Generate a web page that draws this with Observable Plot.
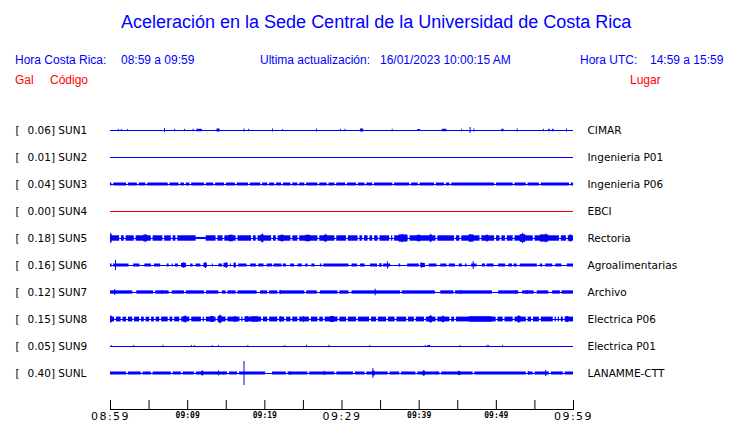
<!DOCTYPE html>
<html><head><meta charset="utf-8">
<script src="https://cdn.jsdelivr.net/npm/d3@7"></script>
<script src="https://cdn.jsdelivr.net/npm/@observablehq/plot@0.6"></script>
<style>
body{margin:0;background:#fff;}
#wrap{position:relative;width:740px;height:423px;overflow:hidden;background:#fff;}
#head{position:relative;width:740px;height:100px;font-family:"Liberation Sans",Arial,sans-serif;}
#head span{position:absolute;white-space:pre;line-height:1;}
.b{color:#0000ff}.r{color:#ff0000}
.maj text{letter-spacing:1.5px}
</style></head><body>
<div id="wrap">
<div id="head">
<span class="b" style="left:121px;top:13px;font-size:18px">Aceleración en la Sede Central de la Universidad de Costa Rica</span>
<span class="b" style="left:15px;top:54px;font-size:12px">Hora Costa Rica:</span>
<span class="b" style="left:121px;top:54px;font-size:12px">08:59 a 09:59</span>
<span class="b" style="left:260px;top:54px;font-size:12px">Ultima actualización:</span>
<span class="b" style="left:380px;top:54px;font-size:12px">16/01/2023 10:00:15 AM</span>
<span class="b" style="left:580px;top:54px;font-size:12px">Hora UTC:</span>
<span class="b" style="left:650px;top:54px;font-size:12px">14:59 a 15:59</span>
<span class="r" style="left:15px;top:74px;font-size:12px">Gal</span>
<span class="r" style="left:50px;top:74px;font-size:12px">Código</span>
<span class="r" style="left:630px;top:74px;font-size:12px">Lugar</span>
</div>
<div id="chart"></div>
</div>
<script>
// ---- data (times in minutes after 08:59, amplitudes in Gal) ----
const codes = ["SUN1","SUN2","SUN3","SUN4","SUN5","SUN6","SUN7","SUN8","SUN9","SUNL"];
const peakGal = [0.06,0.01,0.04,0.00,0.18,0.16,0.12,0.15,0.05,0.40];
const places = ["CIMAR","Ingenieria P01","Ingenieria P06","EBCI","Rectoria","Agroalimentarias","Archivo","Electrica P06","Electrica P01","LANAMME-CTT"];
const baseAmp = [0,0,0.05,0,0.09,0,0.055,0.08,0,0.05];

const sun1Bursts = [[11.2,11.9,0.04],[13.8,14.2,0.05],[32.4,32.8,0.05],[39.8,40.2,0.03],[43.0,43.6,0.04],[50.7,51.0,0.04],[56.8,57.0,0.04],[57.3,57.5,0.04]];
const sun1Spikes = [[1.0,0.04],[1.4,0.03],[2.2,0.03],[7.0,0.07],[8.3,0.04],[9.6,0.04],[10.7,0.04],[17.3,0.05],[17.9,0.04],[21.0,0.05],[22.3,0.03],[26.7,0.05],[29.8,0.04],[30.4,0.04],[36.5,0.04],[45.5,0.04],[46.6,0.1],[47.1,0.05],[52.7,0.05],[56.1,0.04],[59.1,0.05]];

const sun3Gaps = [0.3,2.2,3.6,4.7,7.6,9.0,9.7,10.4,12.3,13.5,14.9,16.3,18.0,19.6,20.5,21.4,22.3,23.5,24.4,25.3,27.0,28.2,29.2,30.6,32.0,33.1,34.1,36.7,38.9,40.0,42.1,43.4,44.1,49.9,52.3,54.0,55.7,59.6];

const sun5Gaps = [1.3,1.9,3.2,5.4,6.9,8.0,8.6,[11.1,12.4],13.8,14.7,16.4,18.4,19.0,21.0,21.6,23.5,24.4,27.0,29.2,30.7,32.2,32.8,33.5,34.1,34.8,36.3,36.7,38.7,42.3,44.7,45.4,48.0,49.9,50.6,51.3,52.3,54.9,58.3,59.2];
const sun5Bursts = [[0,0.2,0.12],[4.3,4.8,0.11],[11.1,12.4,0.035],[15.4,15.9,0.11],[19.5,19.9,0.12],[22.1,22.5,0.11],[25.3,25.9,0.11],[27.7,28.1,0.11],[37.4,38.5,0.12],[39.8,40.2,0.11],[41.4,41.7,0.11],[46.5,47.1,0.12],[48.7,49.0,0.11],[53.1,53.8,0.13],[55.7,56.8,0.12],[59.5,59.8,0.11]];
const sun5Spikes = [[0.05,0.17],[4.5,0.13],[19.7,0.15],[27.9,0.13],[37.8,0.14],[41.5,0.14],[46.6,0.13],[53.4,0.17],[56.4,0.15],[59.6,0.11]];

const sun6Bursts = [[0,0.2],[0.4,2.4],[3.0,3.8],[4.45,5.3],[5.7,6.5],[7.35,7.6],[8.4,8.8],[9.2,9.85,0.07],[10.4,10.7],[11.1,11.7],[12.1,12.55,0.07],[14.05,14.5],[14.7,15.25,0.07],[16.0,16.3,0.07],[16.6,17.7],[18.15,18.9],[19.2,19.9],[20.3,21.0],[21.2,22.2],[22.4,22.8],[23.35,23.85],[24.3,24.85],[25.3,25.6],[26.1,26.5],[27.2,27.4],[27.65,30.9],[31.3,32.0],[32.4,33.0],[33.7,34.6],[34.9,35.2,0.06],[35.4,36.3],[37.4,37.6],[38.5,40.0],[40.2,40.8,0.07],[41.3,42.3],[42.8,43.6],[43.9,44.7],[45.2,45.6],[46.0,46.2],[46.8,47.5],[48.2,48.6],[48.8,49.7],[50.3,51.2],[51.6,52.1],[52.3,52.7],[53.1,55.3],[55.7,56.0],[56.4,57.3],[57.7,58.5],[59.2,60]];
const sun6Spikes = [[0.65,0.17],[8.0,0.05],[9.5,0.1],[12.3,0.1],[13.2,0.05],[15.0,0.1],[15.55,0.05],[16.1,0.09],[35.9,0.12],[40.3,0.09],[47.0,0.13]];

const sun7Gaps = [[2.9,3.4],[5.6,5.85],[7.6,8.0],9.7,12.3,[14.05,14.5],15.1,16.4,[19.0,19.45],20.5,21.8,25.3,[26.8,27.2],29.6,[30.9,31.3],[37.6,37.8],[42.1,42.8],[44.5,44.7],[49.5,50.3],[52.9,53.4],[54.9,55.3],[56.8,57.3],[58.3,58.5]];
const sun7Spikes = [[0.55,0.1],[6.7,0.06],[22.0,0.07],[34.3,0.11],[45.4,0.07],[52.5,0.06],[54.0,0.06]];

const sun8Gaps = [0.65,1.5,2.2,3.0,3.9,4.5,5.2,5.8,6.5,7.6,8.2,9.1,10.4,11.9,12.3,13.8,15.1,16.9,17.3,19.7,20.5,21.8,22.7,23.5,24.4,25.9,27.0,27.7,29.6,30.7,32.0,33.7,34.6,35.9,37.0,38.5,39.5,40.8,42.3,44.1,44.7,50.1,51.0,52.3,54.0,54.7,55.7,57.5,57.9,58.3,58.8];
const sun8Bursts = [[0,0.2,0.1],[9.5,9.9,0.1],[13.0,13.4,0.1],[14.0,14.5,0.11],[16.0,16.4,0.09],[17.5,17.9,0.09],[18.3,19.2,0.09],[28.5,29.0,0.1],[41.3,41.7,0.1],[43.0,43.3,0.1],[46.5,49.5,0.09],[52.8,53.2,0.1],[59.0,59.4,0.09]];
const sun8Spikes = [[0.05,0.12],[9.7,0.12],[14.2,0.15],[22.0,0.1],[25.0,0.1],[41.5,0.13],[43.1,0.11],[52.9,0.13],[59.2,0.1]];

const sun9Bursts = [[41.1,41.5,0.03]];
const sun9Spikes = [[0.1,0.03],[3.0,0.03],[6.8,0.04],[10.5,0.03],[10.9,0.03],[13.2,0.03],[14.0,0.03],[17.8,0.03],[22.6,0.03],[25.4,0.04],[28.3,0.04],[33.6,0.03],[40.8,0.03],[45.3,0.03],[48.8,0.04],[49.0,0.03],[50.8,0.03]];

const sunlGaps = [2.2,4.1,5.4,8.0,9.3,11.0,15.3,16.6,[20.1,21.0],22.9,25.7,29.2,31.6,33.1,36.1,37.6,39.7,42.8,47.1,54.0,54.9,57.0,58.8];
const sunlBursts = [[11.8,12.1,0.07],[34.0,34.3,0.08],[40.5,40.8,0.07],[45.1,45.4,0.07]];
const sunlSpikes = [[17.3,0.4],[11.9,0.08],[14.0,0.08],[14.7,0.06],[23.3,0.06],[27.7,0.07],[34.0,0.16],[40.6,0.1],[42.3,0.05],[45.2,0.06],[54.2,0.06],[56.4,0.1],[58.3,0.05]];

const gapLists = [[],[],sun3Gaps,[],sun5Gaps,[],sun7Gaps,sun8Gaps,[],sunlGaps];
const burstLists = [sun1Bursts,[],[],[],sun5Bursts,sun6Bursts,[],sun8Bursts,sun9Bursts,sunlBursts];
const spikeLists = [sun1Spikes,[],[],[],sun5Spikes,sun6Spikes,sun7Spikes,sun8Spikes,sun9Spikes,sunlSpikes];

const tickMinutes = [0,5,10,15,20,25,30,35,40,45,50,55,60];
const majorMinutes = [0,30,60];
const minorMinutes = [10,20,40,50];

// ---- build tables ----
const startMs = Date.UTC(2023,0,16,8,59);
const toDate = t => new Date(startMs + t*60000);
const rowGap = 0.9;
const colorOf = c => c === "SUN4" ? "#ff0000" : "#0000ff";

const rows = codes.map((code,i) => ({code, gal: peakGal[i], place: places[i], off: -i*rowGap, color: colorOf(code)}));

const segs = [];
const spikes = [];
rows.forEach((r,i) => {
  if (baseAmp[i] > 0) {
    const g = gapLists[i].map(v => Array.isArray(v) ? v : [v-0.12, v+0.12]).sort((a,b)=>a[0]-b[0]);
    let s = 0;
    for (const [a,b] of g) { if (a > s) segs.push({...r, t0:s, t1:a, amp: baseAmp[i]}); s = Math.max(s,b); }
    if (s < 60) segs.push({...r, t0:s, t1:60, amp: baseAmp[i]});
  }
  for (const b of burstLists[i]) segs.push({...r, t0:b[0], t1:b[1], amp: b[2] ?? 0.05});
  for (const p of spikeLists[i]) spikes.push({...r, t:p[0], amp:p[1]});
});

const chart = Plot.plot({
  width: 740, height: 323,
  marginLeft: 110, marginRight: 167, marginTop: 16.5, marginBottom: 14,
  x: {type: "utc", domain: [toDate(0), toDate(60)]},
  y: {domain: [-9.3, 0.45], axis: null},
  style: {fontFamily: "'DejaVu Sans', sans-serif", fontSize: "10.5px", color: "#000", background: "#fff", overflow: "visible"},
  marks: [
    Plot.ruleY(rows, {y: "off", stroke: "color", strokeWidth: 1}),
    Plot.rect(segs, {x1: d => toDate(d.t0), x2: d => toDate(d.t1), y1: d => d.off - d.amp, y2: d => d.off + d.amp, fill: "color"}),
    Plot.ruleX(spikes, {x: d => toDate(d.t), y1: d => d.off - d.amp, y2: d => d.off + d.amp, stroke: "color", strokeWidth: 1}),
    Plot.text(rows, {frameAnchor: "left", y: "off", text: () => "[", dx: -95, textAnchor: "start", fill: "#000"}),
    Plot.text(rows, {frameAnchor: "left", y: "off", text: d => d.gal.toFixed(2) + "] " + d.code, dx: -83, textAnchor: "start", fill: "#000"}),
    Plot.text(rows, {frameAnchor: "right", y: "off", text: "place", dx: 14, textAnchor: "start", fill: "#000"}),
    Plot.frame({anchor: "bottom", stroke: "#000"}),
    Plot.axisX(tickMinutes.map(toDate), {tickSize: -9, tickFormat: () => "", stroke: "#000"}),
    Plot.axisX(majorMinutes.map(toDate), {tickSize: 0, tickPadding: 3, tickFormat: d3.utcFormat("%H:%M"), fontSize: 11, className: "maj", fill: "#000"}),
    Plot.axisX(minorMinutes.map(toDate), {tickSize: 0, tickPadding: 3, tickFormat: d3.utcFormat("%H:%M"), fontSize: 8, fontFamily: "'DejaVu Sans Mono', monospace", fontWeight: "bold", fill: "#000"})
  ]
});
document.getElementById("chart").appendChild(chart);
</script>
</body></html>
